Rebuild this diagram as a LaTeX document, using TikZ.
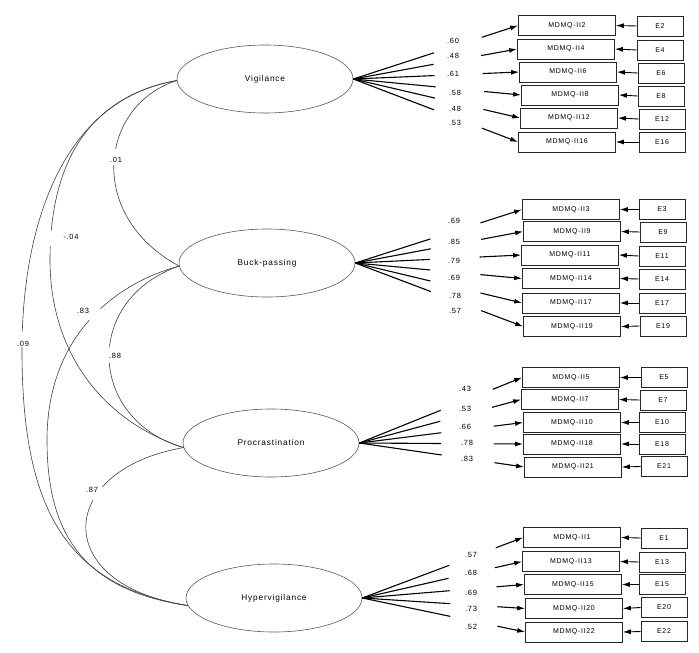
\documentclass[tikz,border=0pt]{standalone}
\usepackage{fontspec}
\setmainfont{Liberation Sans}[LetterSpace=10]
\usetikzlibrary{shapes.geometric,arrows.meta,calc}
\begin{document}
\begin{tikzpicture}[x=1pt,y=-1pt,
  lat/.style={ellipse,draw=black!65,line width=0.6pt,minimum width=176pt,minimum height=68pt,inner sep=0pt,font=\fontsize{8.3}{10}\selectfont},
  obs/.style={rectangle,draw=black!85,line width=0.7pt,minimum width=97pt,minimum height=20pt,inner sep=0pt,font=\fontsize{7}{8}\selectfont},
  err/.style={rectangle,draw=black!85,line width=0.7pt,minimum width=46pt,minimum height=20pt,inner sep=0pt,font=\fontsize{7}{8}\selectfont},
  load/.style={line width=1.1pt},
  tip/.style={-{Latex[length=8pt,width=5pt]}},
  errarr/.style={line width=0.9pt,-{Latex[length=8pt,width=5pt]}},
  cov/.style={line width=0.6pt,draw=black!75},
  coef/.style={font=\fontsize{7.5}{9}\selectfont,inner sep=0.5pt},
  gapnode/.style={circle,fill=white,minimum size=16pt,inner sep=0pt}
]
\useasboundingbox (0,0) rectangle (699,653);
\fill[white] (0,0) rectangle (699,653);

% latent variables
\node[lat] (V) at (265,79) {Vigilance};
\node[lat] (B) at (267,263) {Buck-passing};
\node[lat] (P) at (271,443) {Procrastination};
\node[lat] (H) at (274,598) {Hypervigilance};

% Vigilance indicators
\node[obs] (v1) at (567,25.5) {MDMQ-II2};
\node[obs] (v2) at (566,49) {MDMQ-II4};
\node[obs] (v3) at (568,72) {MDMQ-II6};
\node[obs] (v4) at (570,95) {MDMQ-II8};
\node[obs] (v5) at (569,118) {MDMQ-II12};
\node[obs] (v6) at (567,142) {MDMQ-II16};
\node[err] (ev1) at (660,26) {E2};
\node[err] (ev2) at (660,50) {E4};
\node[err] (ev3) at (661,73) {E6};
\node[err] (ev4) at (661,96) {E8};
\node[err] (ev5) at (662,119) {E12};
\node[err] (ev6) at (662,142) {E16};

% Buck-passing indicators
\node[obs] (b1) at (571,209.5) {MDMQ-II3};
\node[obs] (b2) at (572,231.5) {MDMQ-II9};
\node[obs] (b3) at (570,255) {MDMQ-II11};
\node[obs] (b4) at (571,278.5) {MDMQ-II14};
\node[obs] (b5) at (571,303) {MDMQ-II17};
\node[obs] (b6) at (572,326.5) {MDMQ-II19};
\node[err] (eb1) at (662,209.5) {E3};
\node[err] (eb2) at (663,232) {E9};
\node[err] (eb3) at (662,256) {E11};
\node[err] (eb4) at (662,279) {E14};
\node[err] (eb5) at (662,303) {E17};
\node[err] (eb6) at (663,326) {E19};

% Procrastination indicators
\node[obs] (p1) at (571,377.5) {MDMQ-II5};
\node[obs] (p2) at (570,399.5) {MDMQ-II7};
\node[obs] (p3) at (572,422.5) {MDMQ-II10};
\node[obs] (p4) at (572,444) {MDMQ-II18};
\node[obs] (p5) at (573,467) {MDMQ-II21};
\node[err] (ep1) at (664,377.5) {E5};
\node[err] (ep2) at (663,400) {E7};
\node[err] (ep3) at (662,422.5) {E10};
\node[err] (ep4) at (662,444) {E18};
\node[err] (ep5) at (664,466.5) {E21};

% Hypervigilance indicators
\node[obs] (h1) at (572,537.5) {MDMQ-II1};
\node[obs] (h2) at (571,561.5) {MDMQ-II13};
\node[obs] (h3) at (573,584.5) {MDMQ-II15};
\node[obs] (h4) at (574,608.5) {MDMQ-II20};
\node[obs] (h5) at (574,632) {MDMQ-II22};
\node[err] (eh1) at (664,538) {E1};
\node[err] (eh2) at (662,562) {E13};
\node[err] (eh3) at (662,584.5) {E15};
\node[err] (eh4) at (664,607.5) {E20};
\node[err] (eh5) at (664,631.5) {E22};

% loadings
\foreach \b in {v1,v2,v3,v4,v5,v6}{
  \draw[load] (V.east) -- ($(V.east)!0.49!(\b.west)$);
  \draw[load,tip] ($(V.east)!0.78!(\b.west)$) -- (\b.west);
}
\foreach \b in {b1,b2,b3,b4,b5,b6}{
  \draw[load] (B.east) -- ($(B.east)!0.45!(\b.west)$);
  \draw[load,tip] ($(B.east)!0.75!(\b.west)$) -- (\b.west);
}
\foreach \b in {p1,p2,p3,p4,p5}{
  \draw[load] (P.east) -- ($(P.east)!0.5!(\b.west)$);
  \draw[load,tip] ($(P.east)!0.82!(\b.west)$) -- (\b.west);
}
\foreach \b in {h1,h2,h3,h4,h5}{
  \draw[load] (H.east) -- ($(H.east)!0.54!(\b.west)$);
  \draw[load,tip] ($(H.east)!0.83!(\b.west)$) -- (\b.west);
}

% error arrows
\foreach \e/\b in {ev1/v1,ev2/v2,ev3/v3,ev4/v4,ev5/v5,ev6/v6,
                   eb1/b1,eb2/b2,eb3/b3,eb4/b4,eb5/b5,eb6/b6,
                   ep1/p1,ep2/p2,ep3/p3,ep4/p4,ep5/p5,
                   eh1/h1,eh2/h2,eh3/h3,eh4/h4,eh5/h5}{
  \draw[errarr] (\e.west) -- (\b.east);
}

% loading coefficients
\node[coef] (lv1) at (453,41) {.60};
\node[coef] (lv2) at (453,56) {.48};
\node[coef] (lv3) at (453,74) {.61};
\node[coef] (lv4) at (455,93) {.58};
\node[coef] (lv5) at (455,109) {.48};
\node[coef] (lv6) at (455,123) {.53};

\node[coef] (lb1) at (454,221) {.69};
\node[coef] (lb2) at (454,242) {.85};
\node[coef] (lb3) at (454,261) {.79};
\node[coef] (lb4) at (454,278) {.69};
\node[coef] (lb5) at (455,296) {.78};
\node[coef] (lb6) at (455,311) {.57};

\node[coef] (lp1) at (465,389) {.43};
\node[coef] (lp2) at (465,409) {.53};
\node[coef] (lp3) at (465,427) {.66};
\node[coef] (lp4) at (467,443) {.78};
\node[coef] (lp5) at (467,459) {.83};

\node[coef] (lh1) at (471,555) {.57};
\node[coef] (lh2) at (471,573) {.68};
\node[coef] (lh3) at (471,593) {.69};
\node[coef] (lh4) at (471,609) {.73};
\node[coef] (lh5) at (471,627) {.52};

% covariances
\draw[cov] (V.181) .. controls (60,100) and (22,230) .. (22,350) coordinate[pos=0.97] (g09)
           .. controls (22,500) and (60,585) .. (H.185);
\draw[cov] (V.181) .. controls (70,100) and (50,190) .. (50,260) coordinate[pos=0.9] (g04)
           .. controls (50,350) and (100,420) .. (P.183);
\draw[cov] (V.181) .. controls (100,105) and (85,215) .. (B.182) coordinate[pos=0.47] (g01);
\draw[cov] (B.182) .. controls (110,285) and (47,340) .. (47,440) coordinate[pos=0.45] (g83)
           .. controls (47,530) and (80,590) .. (H.185);
\draw[cov] (B.182) .. controls (82,300) and (88,420) .. (P.183) coordinate[pos=0.48] (g88);
\draw[cov] (P.183) .. controls (55,470) and (50,585) .. (H.185) coordinate[pos=0.33] (g87);

\foreach \g in {g09,g04,g01,g83,g88,g87}{ \node[gapnode] at (\g) {}; }

\node[coef] (c01) at (116,160) {.01};
\node[coef] (c04) at (71,237) {-.04};
\node[coef] (c83) at (83,311) {.83};
\node[coef] (c09) at (23,344) {.09};
\node[coef] (c88) at (115,356) {.88};
\node[coef] (c87) at (92,490) {.87};
\end{tikzpicture}
\end{document}
